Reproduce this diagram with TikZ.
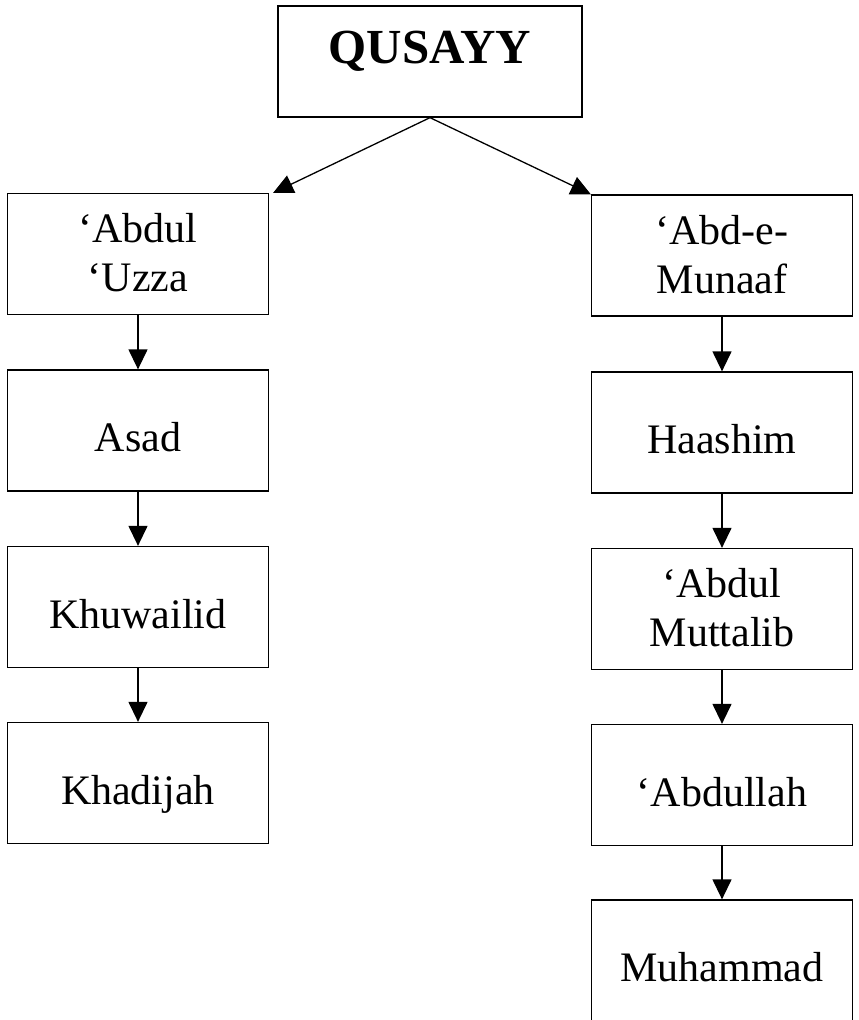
\documentclass[tikz,border=0pt]{standalone}
\usepackage{fontspec}
\setmainfont{Liberation Serif}
\usetikzlibrary{arrows.meta}
\begin{document}
\begin{tikzpicture}[x=1pt,y=-1pt,
  box/.style={draw,line width=1.3pt,rectangle,minimum width=261pt,minimum height=121pt,inner sep=2pt,
    font=\fontsize{42}{49}\selectfont},
  one/.style={box,text height=52pt,text depth=10pt},
  two/.style={box,text height=30pt,text depth=53pt},
  arr/.style={line width=1.3pt,-{Triangle[length=20pt,width=19pt]}}]
\useasboundingbox (0,0) rectangle (859,1020);
\node[draw,line width=1.3pt,minimum width=304pt,minimum height=111pt,inner sep=2pt,
  font=\fontsize{49}{56}\selectfont\bfseries,text height=20pt,text depth=17pt] (q) at (430,61.5) {QUSAYY};
\node[two] (l1) at (138,254) {\begin{tabular}[t]{@{}c@{}}‘Abdul\\‘Uzza\end{tabular}};
\node[one] (l2) at (138,430.5) {Asad};
\node[one] (l3) at (138,607) {Khuwailid};
\node[one] (l4) at (138,783) {Khadijah};
\node[two] (r1) at (722,255.5) {\begin{tabular}[t]{@{}c@{}}‘Abd-e-\\Munaaf\end{tabular}};
\node[one] (r2) at (722,432.5) {Haashim};
\node[two] (r3) at (722,609) {\begin{tabular}[t]{@{}c@{}}‘Abdul\\Muttalib\end{tabular}};
\node[one] (r4) at (722,785) {‘Abdullah};
\node[one] (r5) at (722,960.5) {Muhammad};
\draw[arr] (q.south) -- ([xshift=4pt]l1.north east);
\draw[arr] (q.south) -- (r1.north west);
\draw[arr] (l1) -- (l2);
\draw[arr] (l2) -- (l3);
\draw[arr] (l3) -- (l4);
\draw[arr] (r1) -- (r2);
\draw[arr] (r2) -- (r3);
\draw[arr] (r3) -- (r4);
\draw[arr] (r4) -- (r5);
\end{tikzpicture}
\end{document}
